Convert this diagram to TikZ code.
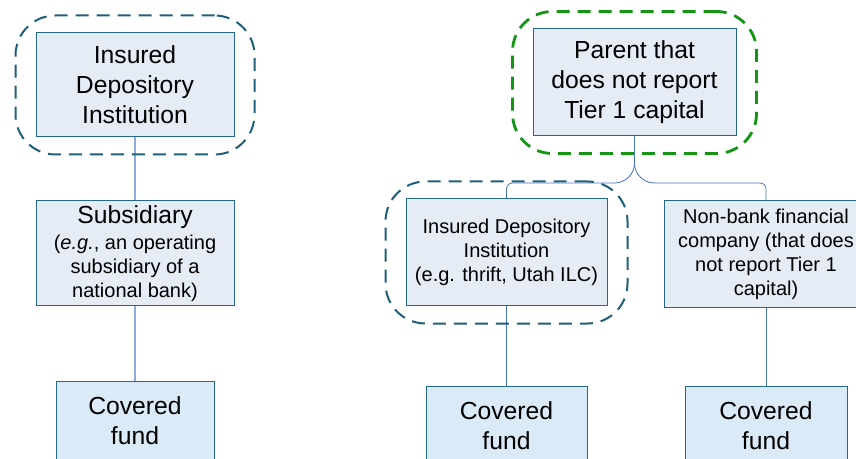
\documentclass[tikz,border=0pt]{standalone}
\usepackage{fontspec}
\setmainfont{Liberation Sans}
\usetikzlibrary{fit}
\definecolor{boxline}{RGB}{36,104,140}
\definecolor{boxfill}{RGB}{230,236,246}
\definecolor{fundfill}{RGB}{218,235,247}
\definecolor{linkblue}{RGB}{68,114,196}
\definecolor{linklight}{RGB}{143,170,220}
\definecolor{dashteal}{RGB}{30,95,122}
\definecolor{dashgreen}{RGB}{20,150,20}
\newcommand{\bigtxt}{\fontsize{24.7}{30}\selectfont}
\newcommand{\smalltxt}{\fontsize{20}{24}\selectfont}

\begin{document}
\begin{tikzpicture}[x=1pt,y=1pt,
  entity/.style={draw=boxline, line width=1pt, fill=boxfill, align=center, inner sep=0pt},
  fund/.style={entity, fill=fundfill, font=\bigtxt, minimum height=80pt},
  group/.style={draw=dashteal, line width=2pt, dash pattern=on 13pt off 8pt, rounded corners=40pt, inner xsep=20pt, inner ysep=17pt},
  link/.style={draw=linkblue, line width=0.8pt}]
\useasboundingbox (0,0) rectangle (856,458);

% Left chain
\node[entity, font=\bigtxt, minimum width=198pt, minimum height=104pt] (idiA) at (135,373) {Insured\\Depository\\Institution};
\node[entity, font=\smalltxt, minimum width=198pt, minimum height=105pt] (subA) at (135,204.5) {{\bigtxt Subsidiary}\\[2pt](\textit{e.g.}, an operating\\subsidiary of a\\national bank)};
\node[fund, minimum width=158pt] (fundA) at (135,37) {Covered\\fund};
\draw[link, draw=linklight, line width=1.2pt] (idiA) -- (subA);
\draw[link, draw=linklight, line width=1.2pt] (subA) -- (fundA);

% Right tree
\node[entity, font=\bigtxt, minimum width=203pt, minimum height=107pt] (parent) at (634.5,375.5) {Parent that\\does not report\\Tier 1 capital};
\node[entity, font=\smalltxt, minimum width=201pt, minimum height=107pt] (idiB) at (506.5,205.5) {Insured Depository\\Institution\\(e.g. thrift, Utah ILC)};
\node[entity, font=\smalltxt, minimum width=204pt, minimum height=107pt] (nonbank) at (766,203.5) {Non-bank financial\\company (that does\\not report Tier 1\\capital)};
\node[fund, minimum width=161pt] (fundB) at (506.5,32) {Covered\\fund};
\node[fund, minimum width=162pt] (fundC) at (766,32) {Covered\\fund};

\coordinate (split) at (634.5,275);
\draw[link] (parent.south) [rounded corners=20pt] -- (split) -- ([xshift=-40pt]split) [rounded corners=6pt] -| (idiB.north);
\draw[link] (parent.south) [rounded corners=20pt] -- (split) -- ([xshift=40pt]split) [rounded corners=6pt] -| (nonbank.north);
\draw[link] (idiB) -- (fundB);
\draw[link] (nonbank) -- (fundC);

% Dashed groupings
\node[group, fit=(idiA)] (idiAgroup) {};
\node[group, draw=dashgreen, line width=2.8pt, fit=(parent)] (parentgroup) {};
\node[group, fit=(idiB)] (idiBgroup) {};
\end{tikzpicture}
\end{document}
